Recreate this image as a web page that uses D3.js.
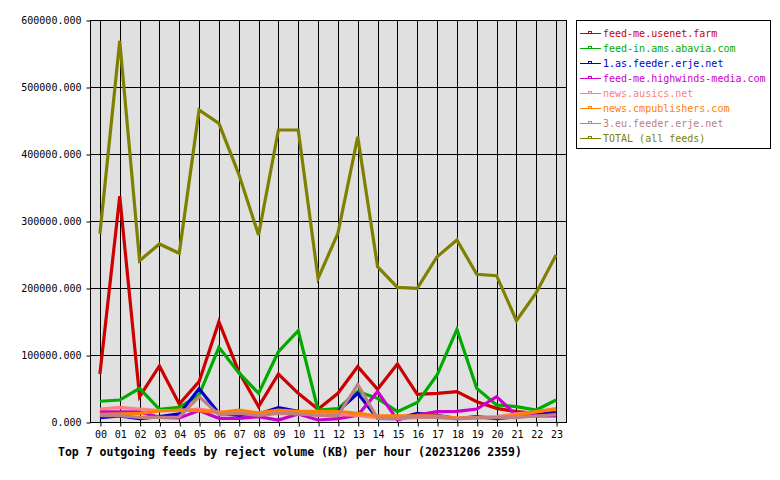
<!DOCTYPE html>
<html><head><meta charset="utf-8">
<script src="https://cdn.jsdelivr.net/npm/d3@7"></script>
<style>
body{margin:0;background:#fff;}
svg{display:block;}
text{font-family:"DejaVu Sans Mono",monospace;}
</style></head>
<body>
<script>
const hours = ["00","01","02","03","04","05","06","07","08","09","10","11","12","13","14","15","16","17","18","19","20","21","22","23"];
const yTicks = [0,100000,200000,300000,400000,500000,600000];
const feedNames = ["feed-me.usenet.farm","feed-in.ams.abavia.com","1.as.feeder.erje.net","feed-me.highwinds-media.com","news.ausics.net","news.cmpublishers.com","3.eu.feeder.erje.net","TOTAL (all feeds)"];
const feedColors = ["#cc0000","#00aa00","#0000cc","#cc00cc","#ff8080","#ff8000","#c08080","#808000"];
const usenetFarm = [71600,337000,37800,83600,26900,60200,149700,75100,22900,71600,42800,19000,42800,82600,48800,86600,41300,42800,45300,30300,20400,15400,13000,15000];
const abavia = [31000,32800,50200,19000,22000,40300,111500,73600,42800,104900,136300,17900,20000,45300,35300,15400,29000,70100,138300,50200,25400,22900,17900,32800];
const erjeAs = [6500,9000,5000,8000,12000,49500,13000,10000,12000,21400,16000,14000,16000,42800,5500,5000,13000,10000,5000,8000,5000,8000,12000,12000];
const highwinds = [15000,15000,15000,7000,6000,17000,5500,5500,8000,3000,12000,3000,5000,10000,45300,3000,10400,15400,15900,19400,37800,10000,9000,9000];
const ausics = [19400,21900,19400,16900,16900,19400,15000,14000,13000,15000,12000,12000,11000,10000,6000,5000,7000,7000,6000,7000,8000,12000,15000,20000];
const cmpublishers = [11400,12000,13000,16400,17900,17000,14000,17900,13500,17900,16000,16000,16000,13000,9000,9000,9000,9000,6000,6000,7000,10000,15400,19400];
const erjeEu = [9500,9500,7000,7000,7500,37800,11000,13000,10000,13000,12000,10000,10000,56000,5500,5500,8000,7000,4500,6500,6500,6500,9000,11000];
const total = [281000,569000,240700,265700,251800,465700,445800,370000,279100,435800,435800,214400,281600,425800,231800,201000,199500,246700,271600,220400,218400,151200,193000,249200];
const seriesValues = [usenetFarm,abavia,erjeAs,highwinds,ausics,cmpublishers,erjeEu,total];
const title = "Top 7 outgoing feeds by reject volume (KB) per hour (20231206 2359)";

const W=780,H=480;
const svg=d3.select("body").append("svg").attr("width",W).attr("height",H);
const L=90,R=566,T=20,B=422;
const x=d3.scaleBand().domain(hours).range([L,R]);
const xc=h=>x(h)+x.bandwidth()/2;
const y=d3.scaleLinear().domain([0,600000]).range([B,T]);

svg.append("rect").attr("x",L).attr("y",T).attr("width",R-L).attr("height",B-T).attr("fill","#e0e0e0");

// grid
svg.append("g").selectAll("line").data(yTicks).join("line")
  .attr("x1",L).attr("x2",R).attr("y1",d=>y(d)+0.5).attr("y2",d=>y(d)+0.5)
  .attr("stroke","#000").attr("stroke-width",1);
svg.append("g").selectAll("line").data(hours).join("line")
  .attr("x1",d=>Math.round(xc(d))+0.5).attr("x2",d=>Math.round(xc(d))+0.5).attr("y1",T).attr("y2",B)
  .attr("stroke","#000").attr("stroke-width",1);

// axes
const yAxis=d3.axisLeft(y).tickValues(yTicks).tickSize(4).tickPadding(5).tickFormat(d=>d3.format(".3f")(d));
const gy=svg.append("g").attr("transform",`translate(${L+0.5},0.5)`).call(yAxis);
gy.select(".domain").remove();
gy.selectAll("line").attr("stroke","#000");
gy.selectAll("text").attr("font-size","10px").attr("fill","#000").attr("font-family","DejaVu Sans Mono");

const xAxis=d3.axisBottom(d3.scalePoint().domain(hours).range([xc("00"),xc("23")])).tickSize(4).tickPadding(4);
const gx=svg.append("g").attr("transform",`translate(0.5,${B+0.5})`).call(xAxis);
gx.select(".domain").remove();
gx.selectAll("line").attr("stroke","#000");
gx.selectAll("text").attr("font-size","10px").attr("fill","#000").attr("font-family","DejaVu Sans Mono");

// frame
svg.append("rect").attr("x",L+0.5).attr("y",T+0.5).attr("width",R-L).attr("height",B-T)
  .attr("fill","none").attr("stroke","#000").attr("stroke-width",1);

// lines
const line=d3.line().x((d,i)=>xc(hours[i])).y(d=>y(d));
seriesValues.forEach((vals,k)=>{
  svg.append("path").datum(vals).attr("d",line).attr("fill","none")
    .attr("stroke",feedColors[k]).attr("stroke-width",3.2).attr("stroke-linejoin","miter");
});

// title
svg.append("text").attr("x",58).attr("y",456).attr("font-size","11.5px").attr("font-weight","bold")
  .attr("fill","#000").text(title);

// legend
const lg=svg.append("g");
lg.append("rect").attr("x",576.5).attr("y",20.5).attr("width",194).attr("height",128)
  .attr("fill","#fff").attr("stroke","#000");
feedNames.forEach((n,i)=>{
  const yy=33+i*15;
  lg.append("line").attr("x1",580).attr("x2",601).attr("y1",yy+0.5).attr("y2",yy+0.5).attr("stroke",feedColors[i]);
  lg.append("rect").attr("x",588.5).attr("y",yy-1.5).attr("width",3).attr("height",2).attr("fill","none").attr("stroke",feedColors[i]);
  lg.append("text").attr("x",603).attr("y",yy+4).attr("font-size","10px").attr("fill",feedColors[i]).text(n);
});
</script>
</body></html>
